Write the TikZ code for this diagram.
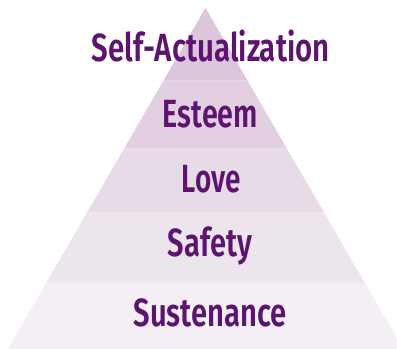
\documentclass[tikz,border=0pt]{standalone}
\usepackage{fontspec}
\usepackage{graphicx}
\setmainfont{Fira Sans}[BoldFont={* SemiBold}]
\definecolor{lay1}{HTML}{DCC6DC}
\definecolor{lay2}{HTML}{E2D0E2}
\definecolor{lay3}{HTML}{E8DBE8}
\definecolor{lay4}{HTML}{EDE5EE}
\definecolor{lay5}{HTML}{F4EFF5}
\definecolor{txt}{HTML}{5C1470}
\newcommand{\lbltxt}[2]{\resizebox{#1pt}{\height}{\fontsize{29.5}{31}\selectfont\bfseries #2}}
\begin{document}
\begin{tikzpicture}[x=0.75pt,y=-0.75pt,
  lbl/.style={anchor=base,inner sep=0pt,text=txt}]
\useasboundingbox (0,0) rectangle (397,349);
\clip (0,0) rectangle (397,349);
% left edge x(y) = 205.5 - 0.58*(y-8); right = 205.5 + 0.58*(y-8)
\fill[lay1] (205.5,8) -- (163.4,80.7) -- (247.6,80.7) -- cycle;
\fill[lay2] (163.4,80.7) -- (124.0,148.7) -- (287.0,148.7) -- (247.6,80.7) -- cycle;
\fill[lay3] (124.0,148.7) -- (86.9,212.7) -- (324.1,212.7) -- (287.0,148.7) -- cycle;
\fill[lay4] (86.9,212.7) -- (45.7,283.7) -- (365.3,283.7) -- (324.1,212.7) -- cycle;
\fill[lay5] (45.7,283.7) -- (7.7,349) -- (403.3,349) -- (365.3,283.7) -- cycle;
\node[lbl] (self) at (210.8,61.7) {\lbltxt{178.5}{Self-Actualization}};
\node[lbl] (esteem) at (210.5,128) {\lbltxt{71.3}{Esteem}};
\node[lbl] (love) at (211.5,193) {\lbltxt{44.3}{Love}};
\node[lbl] (safety) at (210,257) {\lbltxt{63}{Safety}};
\node[lbl] (sust) at (210.3,326.7) {\lbltxt{114.8}{Sustenance}};
\end{tikzpicture}
\end{document}
